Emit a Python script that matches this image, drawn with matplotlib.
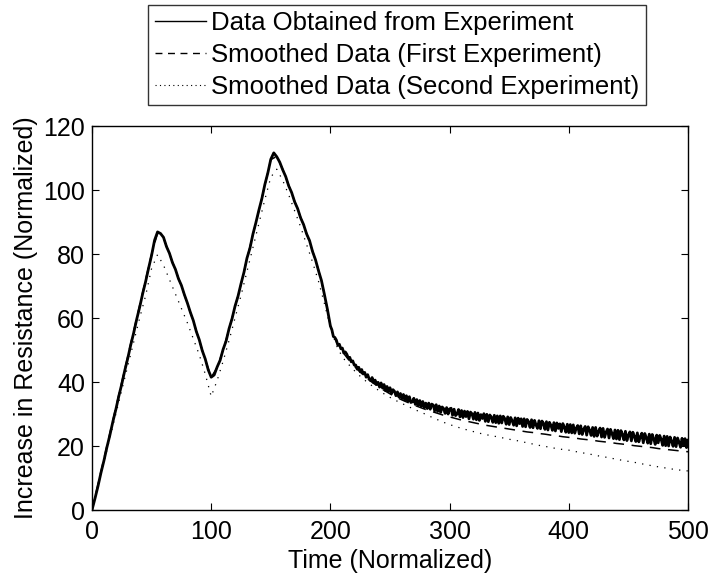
import numpy as np
import matplotlib
matplotlib.use('Agg')
import matplotlib.pyplot as plt
from matplotlib.lines import Line2D

plt.rcParams['font.family'] = ['Liberation Sans', 'DejaVu Sans']

# measured curve: every 2.5 time units up to 200, then every 1.25 up to 500
t_meas = np.concatenate([np.arange(0, 202.5, 2.5), np.arange(201.25, 500.01, 1.25)])
v_meas = [
    0.0, 3.6, 7.4, 11.6, 15.4, 19.6, 23.4, 27.6, 31.4, 35.6,
    39.4, 43.6, 47.4, 51.6, 55.4, 59.6, 63.4, 67.6, 71.4, 75.6,
    79.6, 84.3, 86.9, 86.4, 85.2, 82.3, 80.2, 77.3, 75.2, 72.3,
    70.2, 67.3, 64.7, 61.8, 59.2, 55.8, 53.2, 49.8, 47.2, 43.8,
    41.5, 42.2, 44.7, 46.8, 50.2, 52.8, 56.7, 59.8, 63.7, 66.8,
    70.7, 74.3, 78.7, 81.8, 86.2, 89.8, 93.7, 97.3, 101.7, 105.3,
    109.6, 111.6, 110.4, 108.7, 106.3, 104.2, 101.3, 99.2, 96.3, 94.2,
    91.3, 89.2, 86.3, 84.2, 80.8, 78.2, 74.8, 71.7, 67.3, 62.7,
    57.5,
    # tail, 201.25 .. 500
    56.3, 54.2, 53.9, 53.1, 51.5, 51.8, 50.4, 50.6, 49.1, 49.4, 48.7, 47.5, 47.7, 46.3, 46.6, 45.3,
    45.3, 44.0, 44.6, 43.2, 43.9, 42.5, 43.0, 41.5, 42.3, 41.0, 40.4, 41.4, 39.8, 40.6, 39.2, 39.9,
    38.4, 39.7, 38.1, 39.2, 37.3, 38.6, 37.0, 38.2, 36.4, 37.6, 37.1, 35.7, 36.9, 35.3, 36.4, 34.8,
    36.1, 34.4, 35.7, 34.0, 35.4, 33.6, 33.8, 34.9, 33.0, 34.5, 32.7, 34.2, 32.4, 33.9, 32.0, 33.4,
    31.7, 33.4, 31.5, 33.1, 32.8, 31.0, 32.9, 30.8, 32.5, 30.5, 32.2, 31.7, 30.2, 32.0, 30.0, 31.6,
    31.8, 29.6, 31.5, 29.5, 30.0, 31.4, 29.1, 31.1, 28.9, 30.9, 29.2, 30.8, 28.5, 30.6, 30.1, 28.4,
    30.5, 28.2, 30.3, 28.0, 29.8, 28.6, 30.1, 27.7, 29.9, 27.6, 29.7, 29.0, 27.4, 29.6, 27.3, 29.4,
    27.1, 29.4, 27.2, 29.3, 28.6, 26.8, 29.1, 26.7, 28.9, 27.9, 26.5, 28.8, 26.3, 28.7, 27.0, 28.5,
    26.1, 28.5, 26.0, 28.3, 27.6, 25.8, 28.2, 25.7, 28.0, 26.6, 25.5, 27.9, 25.4, 27.8, 27.1, 25.2,
    27.6, 25.0, 27.4, 26.5, 24.9, 27.3, 24.7, 27.2, 25.5, 26.9, 24.5, 27.0, 25.9, 24.3, 26.8, 24.2,
    26.7, 24.1, 26.6, 24.0, 25.6, 26.4, 23.8, 26.3, 23.6, 25.2, 26.1, 23.4, 26.0, 24.9, 23.3, 25.8,
    23.0, 25.8, 23.1, 24.6, 25.6, 22.8, 25.5, 22.7, 24.3, 25.3, 22.5, 25.2, 23.9, 22.3, 25.0, 22.2,
    24.9, 22.0, 24.8, 23.6, 21.9, 24.6, 21.7, 23.4, 24.4, 21.6, 24.3, 23.0, 21.4, 24.1, 21.3, 22.9,
    24.0, 21.0, 23.9, 22.6, 20.9, 23.7, 20.7, 23.6, 22.3, 20.5, 23.4, 21.0, 23.3, 22.1, 20.2, 23.1,
    20.1, 23.0, 20.0, 22.8, 21.5, 19.9, 22.7, 19.8, 22.5, 21.2, 19.6, 22.4, 20.3, 22.3, 19.5, 21.8,
]

# smoothed curves, every 5 time units (0 .. 500)
t_fit = np.arange(0, 505, 5)
v_first = [
    0, 8, 16, 24, 32, 40, 48, 56, 64, 72,
    80, 86.5, 85, 80, 75, 70, 64.5, 59, 53, 47,
    41.5, 44.5, 50, 56.5, 63.5, 70.5, 78.5, 86, 93.5, 101.5,
    109.5, 110.5, 106.5, 101.5, 96.5, 91.5, 86.5, 81, 75, 67.5,
    57.5, 52.5, 49.5, 47.1, 45.0, 43.1, 41.4, 39.9, 38.6, 37.4,
    36.3, 35.3, 34.4, 33.6, 32.8, 32.1, 31.4, 30.8, 30.2, 29.6,
    29.1, 28.6, 28.1, 27.7, 27.3, 26.9, 26.5, 26.2, 25.9, 25.6,
    25.3, 25.0, 24.7, 24.4, 24.2, 23.9, 23.7, 23.4, 23.2, 22.9,
    22.7, 22.5, 22.2, 22.0, 21.8, 21.5, 21.3, 21.1, 20.8, 20.6,
    20.4, 20.1, 19.9, 19.7, 19.5, 19.2, 19.0, 18.8, 18.6, 18.4,
    18.2,
]
v_second = [
    0, 7.5, 15, 22.5, 30, 37.5, 45, 52.5, 60, 67,
    75.5, 79.8, 76.5, 72, 67.5, 63, 58.5, 53.5, 48.5, 42.5,
    35.5, 40.5, 46.5, 53, 60, 67, 74.5, 82, 89.5, 97,
    104, 106.5, 103, 98.5, 93.5, 88.5, 83, 77.5, 71.5, 64.5,
    57, 51.5, 47.8, 45.6, 43.6, 41.8, 40.2, 38.8, 37.5, 36.3,
    35.2, 34.2, 33.3, 32.4, 31.5, 30.7, 29.9, 29.0, 28.2, 27.4,
    26.7, 26.1, 25.5, 25.0, 24.5, 24.0, 23.6, 23.2, 22.9, 22.5,
    22.1, 21.8, 21.4, 21.0, 20.6, 20.2, 19.9, 19.5, 19.2, 18.9,
    18.7, 18.3, 18.0, 17.6, 17.3, 16.9, 16.6, 16.2, 15.9, 15.5,
    15.2, 14.9, 14.5, 14.2, 13.8, 13.5, 13.2, 12.9, 12.6, 12.4,
    12.2,
]

labels = ['Data Obtained from Experiment',
          'Smoothed Data (First Experiment)',
          'Smoothed Data (Second Experiment)']

fig = plt.figure(figsize=(7.12, 5.78), dpi=100)
ax = fig.add_axes([92 / 712, 68 / 578, 596 / 712, 384 / 578])

ax.plot(t_meas, v_meas, color='black', lw=2.0, solid_joinstyle='round')
ax.plot(t_fit, v_first, color='black', lw=1.1, linestyle=(0, (7, 5)))
ax.plot(t_fit, v_second, color='black', lw=0.9, linestyle=(0, (1, 5)))

ax.set_xlim(0, 500)
ax.set_ylim(0, 120)
ax.set_xticks(range(0, 501, 100))
ax.set_yticks(range(0, 121, 20))
ax.tick_params(direction='in', top=True, right=True, length=5, width=0.8,
               labelsize=18, pad=5)
ax.tick_params(axis='x', pad=7)
for s in ax.spines.values():
    s.set_linewidth(1.0)
ax.set_xlabel('Time (Normalized)', fontsize=18, labelpad=4)
ax.set_ylabel('Increase in Resistance (Normalized)', fontsize=18, labelpad=4)

handles = [Line2D([], [], color='black', lw=1.0),
           Line2D([], [], color='black', lw=1.0, linestyle=(0, (5, 4))),
           Line2D([], [], color='black', lw=0.8, linestyle=(0, (1, 3)))]
leg = fig.legend(handles, labels, loc='upper center',
                 bbox_to_anchor=(397 / 712, 1 - 5 / 578), fontsize=18.5,
                 frameon=True, fancybox=False, edgecolor='black',
                 handlelength=2.0, handletextpad=0.2, labelspacing=0.3,
                 borderpad=0.25, borderaxespad=0)
leg.get_frame().set_linewidth(1.0)

fig.savefig('out.png', dpi=100)
